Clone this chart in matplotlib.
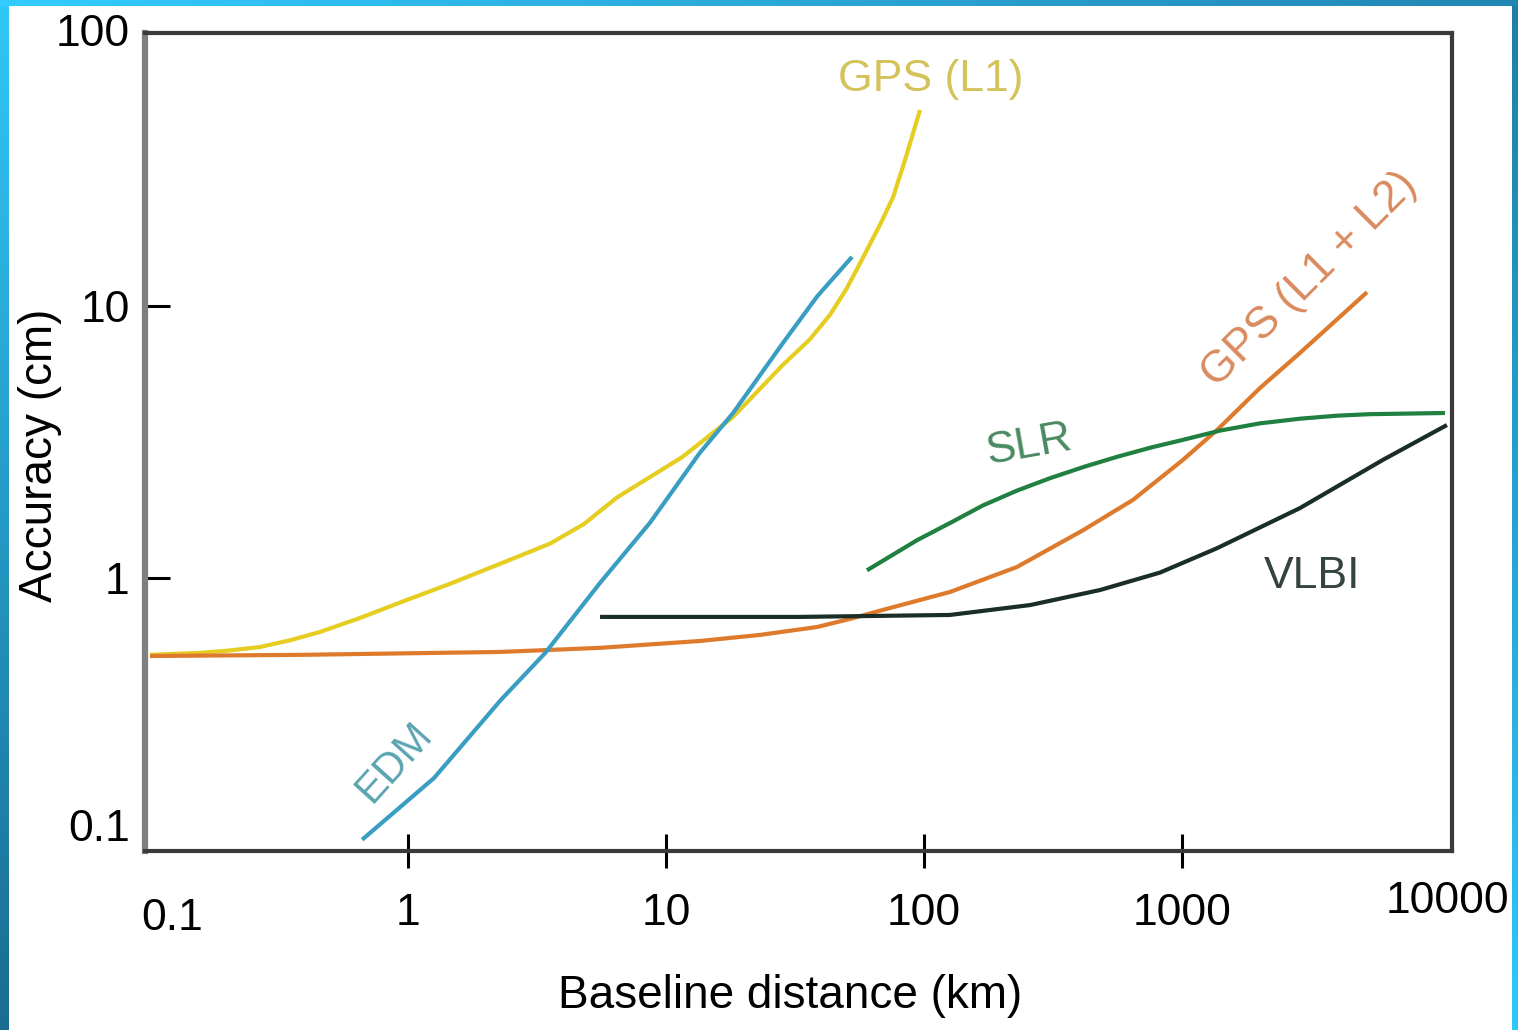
import numpy as np
import matplotlib
matplotlib.use("Agg")
import matplotlib.pyplot as plt
from matplotlib.ticker import NullLocator, FixedLocator, FixedFormatter

plt.rcParams['font.family'] = ['Liberation Sans', 'DejaVu Sans']

# ---------------- data ----------------
x_ticks = [1, 10, 100, 1000]
x_tick_labels = ["1", "10", "100", "1000"]
y_ticks = [1, 10]
y_tick_labels = ["1", "10"]

# GPS (L1)
x_gps1 = [0.1, 0.156, 0.2, 0.267, 0.35, 0.456, 0.65, 0.931, 1.455, 2.27, 3.55, 4.8, 6.46,
          11.6, 18.2, 28.4, 36.0, 43.2, 50.0, 56.5, 67.5, 75.9, 84.4, 96.5]
y_gps1 = [0.524, 0.533, 0.543, 0.560, 0.593, 0.636, 0.715, 0.815, 0.955, 1.13, 1.34, 1.58,
          1.98, 2.79, 3.91, 6.07, 7.50, 9.25, 11.5, 14.3, 19.8, 25.0, 34.2, 52.2]

# GPS (L1 + L2)
x_gps12 = [0.1, 0.381, 2.27, 5.55, 13.5, 23.1, 38.5, 51.7, 69.3, 126, 229, 413, 646,
           1009, 1368, 2006, 2866, 5212]
y_gps12 = [0.519, 0.524, 0.537, 0.556, 0.589, 0.620, 0.663, 0.710, 0.766, 0.891, 1.10,
           1.50, 1.94, 2.72, 3.50, 4.99, 6.71, 11.2]

# EDM
x_edm = [0.664, 1.26, 2.29, 3.40, 5.55, 8.67, 13.5, 18.2, 28.4, 38.5, 52.6]
y_edm = [0.110, 0.185, 0.358, 0.532, 0.962, 1.60, 2.88, 4.04, 7.30, 10.8, 15.1]

# SLR
x_slr = [60.1, 94.0, 130, 169, 230, 308, 420, 560, 760, 1009, 1400, 2000, 2866, 4000,
         5354, 10450]
y_slr = [1.07, 1.38, 1.62, 1.85, 2.10, 2.33, 2.57, 2.79, 3.02, 3.22, 3.48, 3.70, 3.85,
         3.95, 4.00, 4.04]

# VLBI
x_vlbi = [5.55, 33.1, 126, 258, 481, 822, 1368, 2866, 6012, 10640]
y_vlbi = [0.722, 0.722, 0.734, 0.798, 0.906, 1.05, 1.29, 1.81, 2.72, 3.65]

# ---------------- figure ----------------
W, H = 1518, 1030
fig = plt.figure(figsize=(W / 100, H / 100), dpi=100)
fig.patch.set_facecolor("white")

# decorative blue frame
bg = fig.add_axes([0, 0, 1, 1], zorder=-10)
img = np.ones((H, W, 3))
t = np.linspace(0, 1, H)[:, None]
left_top = np.array([0x30, 0xc8, 0xf8]) / 255
left_bot = np.array([0x1a, 0x6c, 0x92]) / 255
img[:, :9, :] = (left_top * (1 - t) + left_bot * t)[:, None, :]
right_top = np.array([0x1e, 0x7e, 0xaa]) / 255
right_bot = np.array([0x30, 0xc8, 0xf8]) / 255
img[:, -6:, :] = (right_top * (1 - t) + right_bot * t)[:, None, :]
s = np.linspace(0, 1, W)[:, None]
top_l = np.array([0x33, 0xcc, 0xff]) / 255
top_r = np.array([0x22, 0x86, 0xb4]) / 255
img[:6, :, :] = (top_l * (1 - s) + top_r * s)[None, :, :]
bg.imshow(img, aspect="auto", extent=[0, 1, 0, 1], interpolation="nearest")
bg.set_axis_off()

ax = fig.add_axes([145 / W, (H - 851) / H, 1307 / W, 818 / H])
ax.set_facecolor("white")
ax.set_xscale("log")
ax.set_yscale("log")
ax.set_xlim(10 ** (-1 - 5 / 258), 10 ** (-1 + 1302 / 258))
ax.set_ylim(0.1, 100)

lw = 3.0
kw = dict(lw=lw, solid_capstyle="butt", solid_joinstyle="round")
ax.plot(x_gps1, y_gps1, color="#e6cd22", zorder=3, **kw)
ax.plot(x_gps12, y_gps12, color="#de7a2c", zorder=3, **kw)
ax.plot(x_edm, y_edm, color="#3a9ec2", zorder=4, **kw)
ax.plot(x_slr, y_slr, color="#1f8040", zorder=4, **kw)
ax.plot(x_vlbi, y_vlbi, color="#1a2e26", zorder=4, **kw)

# series labels
fs = 32
ax.text(0.601, 0.943, "GPS (L1)", transform=ax.transAxes, ha="center", va="center",
        fontsize=fs, color="#d4c25a")
ax.text(0.891, 0.699, "GPS (L1 + L2)", transform=ax.transAxes, ha="center", va="center",
        fontsize=32, color="#da8a5e", rotation=45, rotation_mode="anchor")
ax.text(0.677, 0.496, "SLR", transform=ax.transAxes, ha="center", va="center",
        fontsize=fs, color="#4a8a62", rotation=10, rotation_mode="anchor")
ax.text(0.893, 0.335, "VLBI", transform=ax.transAxes, ha="center", va="center",
        fontsize=fs, color="#34443e")
ax.text(0.191, 0.109, "EDM", transform=ax.transAxes, ha="center", va="center",
        fontsize=30, color="#5aa4b0", rotation=48, rotation_mode="anchor")

# spines
for side in ["top", "bottom", "right"]:
    ax.spines[side].set_color("#3a3a3a")
    ax.spines[side].set_linewidth(3.0)
ax.spines["left"].set_color("#808080")
ax.spines["left"].set_linewidth(4.5)

# ticks
ax.xaxis.set_minor_locator(NullLocator())
ax.yaxis.set_minor_locator(NullLocator())
ax.xaxis.set_major_locator(FixedLocator(x_ticks))
ax.xaxis.set_major_formatter(FixedFormatter(x_tick_labels))
ax.yaxis.set_major_locator(FixedLocator(y_ticks))
ax.yaxis.set_major_formatter(FixedFormatter(y_tick_labels))
ax.tick_params(axis="x", direction="inout", length=25, width=2.2, color="black",
               labelsize=32, pad=18)
ax.tick_params(axis="y", direction="in", length=18, width=2.2, color="black",
               labelsize=32, pad=11)

# end labels of axes
ax.text(0.0207, -0.082, "0.1", transform=ax.transAxes, ha="center", va="center", fontsize=32)
ax.text(0.9962, -0.062, "10000", transform=ax.transAxes, ha="center", va="center", fontsize=32)
ax.text(-0.0115, 0.9976, "100", transform=ax.transAxes, ha="right", va="center", fontsize=32)
ax.text(-0.0115, 0.0257, "0.1", transform=ax.transAxes, ha="right", va="center", fontsize=32)

ax.set_xlabel("Baseline distance (km)", fontsize=33)
ax.xaxis.set_label_coords(0.4935, -0.150)
ax.set_ylabel("Accuracy (cm)", fontsize=33)
ax.yaxis.set_label_coords(-0.0635, 0.484)

fig.savefig("out.png", dpi=100)
